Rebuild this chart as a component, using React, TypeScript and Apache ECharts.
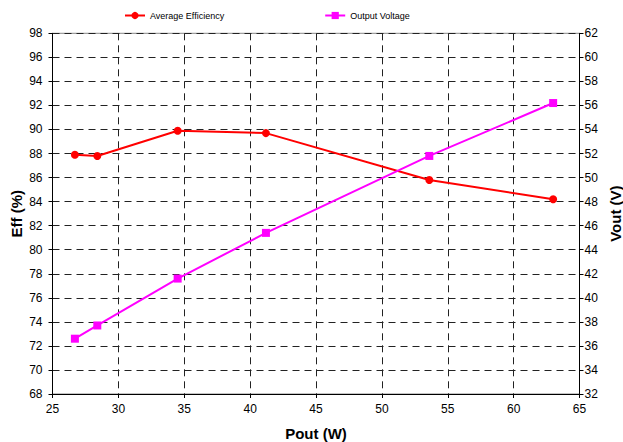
import React, { useEffect, useRef } from "react";
import * as echarts from "echarts";

const poutW = [26.7, 28.4, 34.5, 41.2, 53.6, 63.0];
const efficiencyPct = [87.9, 87.8, 89.9, 89.7, 85.8, 84.2];
const voutV = [36.6, 37.7, 41.6, 45.4, 51.8, 56.2];

const FONT = "Liberation Sans, Arial, sans-serif";

export default function App() {
  const ref = useRef<HTMLDivElement>(null);
  useEffect(() => {
    if (!ref.current) return;
    const chart = echarts.init(ref.current, undefined, { renderer: "svg" });
    const gridDash = { color: "#222", width: 1, type: [7, 5] as any };
    const nameStyle = { fontSize: 15, fontWeight: "bold", color: "#000", fontFamily: FONT };
    chart.setOption({
      animation: false,
      backgroundColor: "#fff",
      textStyle: { fontFamily: FONT },
      legend: {
        top: 6,
        left: 119,
        itemGap: 100,
        itemWidth: 20,
        itemHeight: 9,
        textStyle: { fontSize: 9, color: "#000", fontFamily: FONT },
        data: ["Average Efficiency", "Output Voltage"],
      },
      grid: {
        left: 52.5,
        right: 43.5,
        top: 33.3,
        bottom: 48,
        show: true,
        borderColor: "#888",
        borderWidth: 1,
        containLabel: false,
        outerBoundsMode: "none",
      },
      xAxis: {
        type: "value",
        min: 25,
        max: 65,
        interval: 5,
        name: "Pout (W)",
        nameLocation: "middle",
        nameGap: 32,
        nameMoveOverlap: false,
        nameTextStyle: nameStyle,
        axisLine: { show: true, onZero: false, lineStyle: { color: "#000", width: 1 } },
        axisTick: { show: true, length: 4, lineStyle: { color: "#000" } },
        axisLabel: { fontSize: 12, color: "#000", margin: 9, fontFamily: FONT },
        splitLine: { show: true, lineStyle: gridDash },
      },
      yAxis: [
        {
          type: "value",
          min: 68,
          max: 98,
          interval: 2,
          position: "left",
          name: "Eff (%)",
          nameLocation: "middle",
          nameGap: 29,
          nameMoveOverlap: false,
          nameRotate: 90,
          nameTextStyle: nameStyle,
          axisLine: { show: true, onZero: false, lineStyle: { color: "#000", width: 1 } },
          axisTick: { show: true, length: 4, lineStyle: { color: "#000" } },
          axisLabel: { fontSize: 12, color: "#000", margin: 10, fontFamily: FONT },
          splitLine: { show: true, lineStyle: gridDash },
        },
        {
          type: "value",
          min: 32,
          max: 62,
          interval: 2,
          position: "right",
          name: "Vout (V)",
          nameLocation: "middle",
          nameGap: 28,
          nameMoveOverlap: false,
          nameRotate: 90,
          nameTextStyle: nameStyle,
          axisLine: { show: true, onZero: false, lineStyle: { color: "#000", width: 1 } },
          axisTick: { show: true, length: 4, lineStyle: { color: "#000" } },
          axisLabel: { fontSize: 12, color: "#000", margin: 5, fontFamily: FONT },
          splitLine: { show: false },
        },
      ],
      series: [
        {
          name: "Average Efficiency",
          type: "line",
          yAxisIndex: 0,
          data: poutW.map((x, i) => [x, efficiencyPct[i]]),
          symbol: "circle",
          symbolSize: 8,
          lineStyle: { color: "#ff0000", width: 2 },
          itemStyle: { color: "#ff0000" },
        },
        {
          name: "Output Voltage",
          type: "line",
          yAxisIndex: 1,
          data: poutW.map((x, i) => [x, voutV[i]]),
          symbol: "rect",
          symbolSize: 8,
          lineStyle: { color: "#ff00ff", width: 2 },
          itemStyle: { color: "#ff00ff" },
        },
      ],
    });
    return () => chart.dispose();
  }, []);
  return <div ref={ref} style={{ width: 623, height: 442, position: "absolute", left: 0, top: 0 }} />;
}
